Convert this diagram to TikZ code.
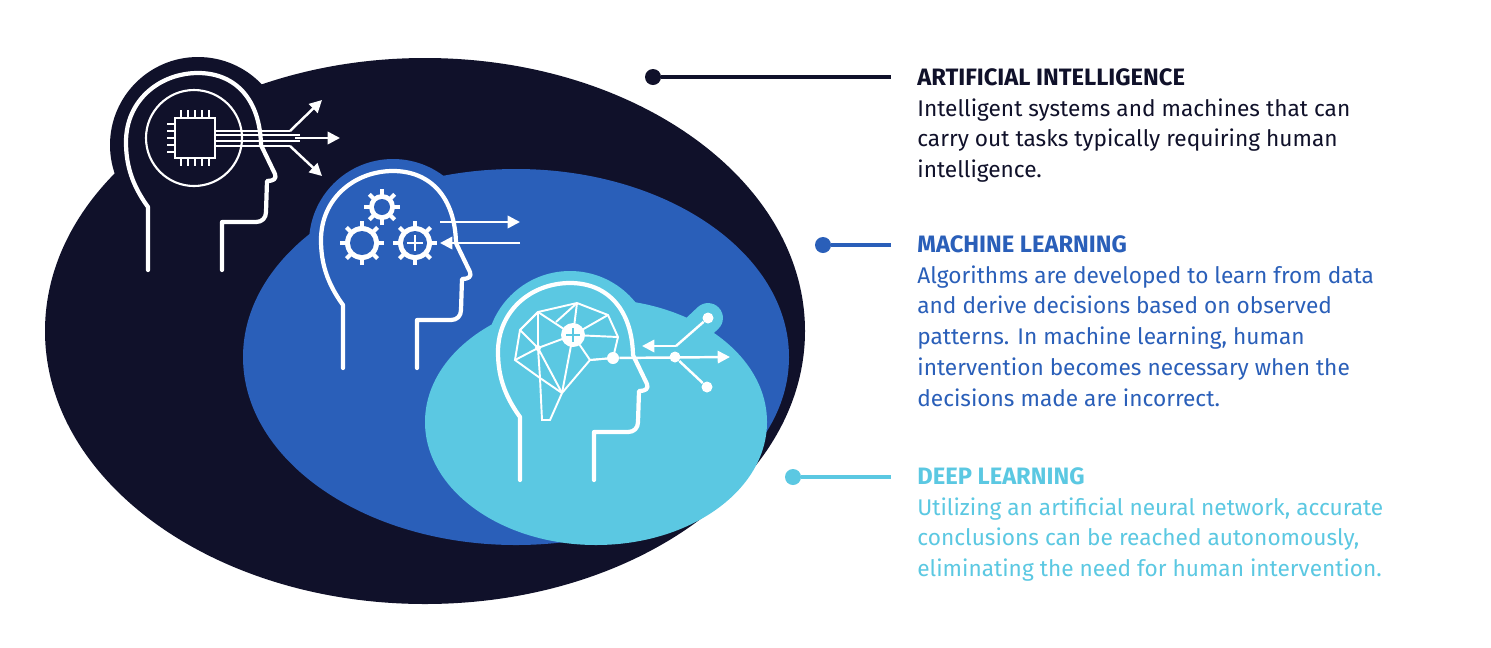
\documentclass[tikz,border=0pt]{standalone}
\usepackage{fontspec}
\setmainfont{Fira Sans}
\usetikzlibrary{arrows.meta}
\definecolor{dk}{HTML}{10112A}
\definecolor{bl}{HTML}{2A5FB9}
\definecolor{lb}{HTML}{5BC8E2}
\tikzset{
 hd/.style={draw=white,line width=2.4pt,line join=round,line cap=round},
 wl/.style={draw=white,line width=1.4pt},
 arr/.style={wl,-{Triangle[length=7pt,width=7pt]}},
 leader/.style={line width=2.2pt},
 ttl/.style={anchor=north west,font=\fontsize{13.5}{17.5}\selectfont\bfseries,inner sep=0pt},
 bod/.style={anchor=north west,align=left,font=\fontsize{12.9}{17.6}\selectfont,inner sep=0pt},
}
\newcommand\myhead{(0,0) -- (0,-63) .. controls (-16,-85) and (-22,-105) .. (-22,-128)
 .. controls (-22,-170) and (12,-197) .. (50,-197) .. controls (88,-197) and (112,-170) .. (113,-125)
 -- (127,-96) .. controls (129,-91) and (125,-89) .. (119,-89) -- (118,-58)
 .. controls (118,-52) and (114,-48) .. (108,-48) -- (74,-48) -- (74,0)}
\begin{document}
\begin{tikzpicture}[x=0.02cm,y=-0.02cm]
\useasboundingbox[fill=white] (0,0) rectangle (1491,647);
% dark region
\fill[dk] (425,331) ellipse [x radius=380,y radius=273];
\fill[dk] (198,145) circle (88);
% blue region
\fill[bl] (516,357) ellipse [x radius=273,y radius=188];
\fill[bl] (393,243) circle (84);
% light region
\fill[lb] (596,422) ellipse [x radius=171,y radius=123];
\fill[lb] (570,355) circle (84);
\draw[lb,line width=17pt,line cap=round] (672,352) -- (708,318);
% head 1
\begin{scope}[shift={(148,270)}]
\draw[hd] \myhead;
\end{scope}
\node[circle,draw=white,line width=1.2pt,minimum size=96*0.02cm,inner sep=0pt] (ring) at (194,138) {};
\node[draw=white,line width=1.4pt,minimum size=40*0.02cm,inner sep=0pt] (chip) at (195,138) {};
\foreach \i in {-14,-7,0,7,14}{
 \draw[wl] (195+\i,118) -- (195+\i,110);
 \draw[wl] (195+\i,158) -- (195+\i,166);
 \draw[wl] (175,138+\i) -- (167,138+\i);}
\draw[wl] (215,131) -- (290,131);
\draw[arr] (290,131) -- (322,100);
\draw[wl] (215,135) -- (300,135);
\draw[wl] (215,141) -- (300,141);
\draw[arr] (295,138) -- (340,138);
\draw[wl] (215,146) -- (290,146);
\draw[arr] (290,146) -- (322,176);
% head 2
\begin{scope}[shift={(343,368)}]
\draw[hd] \myhead;
\end{scope}
\foreach \c/\r in {{(382,207)}/13,{(362,243)}/17,{(415,243)}/17}{
 \fill[white] \c circle (\r);
 \foreach \a in {0,45,...,315} \draw[white,line width=2.4pt] \c -- ++(\a:\r+5);
 \fill[bl] \c circle (\r-5);}
\draw[white,line width=1.6pt] (407,243) -- (423,243) (415,235) -- (415,251);
\draw[arr] (440,222) -- (520,222);
\draw[arr] (520,243) -- (440,243);
% head 3
\begin{scope}[shift={(520,480)}]
\draw[hd] \myhead;
\end{scope}
\begin{scope}[wl,line width=1.1pt]
\draw (515,360) -- (520,330) -- (538,312) -- (577,303) -- (608,315) -- (618,337) -- (613,358)
 -- (590,360) -- (562,393) -- (550,420) -- (542,420) -- (540,378) -- cycle;
\draw (538,348) -- (538,312) (538,348) -- (520,330) (538,348) -- (573,335) (538,348) -- (540,378)
 (538,348) -- (562,393) (538,348) -- (515,360);
\draw (573,335) -- (538,312) (573,335) -- (577,303) (573,335) -- (608,315) (573,335) -- (618,337)
 (573,335) -- (590,360) (573,335) -- (562,393) (590,360) -- (613,358) (540,378) -- (562,393);
\draw (520,330) -- (538,312) (577,303) -- (556,322);
\end{scope}
\fill[white] (573,335) circle (12);
\draw[lb,line width=1.5pt] (566,335) -- (580,335) (573,328) -- (573,342);
\fill[white] (538,348) circle (3);
\node[circle,fill=white,inner sep=0pt,minimum size=12*0.02cm] (d1) at (613,358) {};
\node[circle,fill=white,inner sep=0pt,minimum size=11*0.02cm] (d2) at (675,357) {};
\node[circle,fill=white,inner sep=0pt,minimum size=11*0.02cm] (d3) at (707,387) {};
\node[circle,fill=white,inner sep=0pt,minimum size=11*0.02cm] (d4) at (708,318) {};
\draw[arr] (d1) -- (730,357);
\draw[wl] (d2) -- (d3);
\draw[wl] (d4) -- (676,346);
\draw[arr] (676,346) -- (642,346);
% leaders
\node[circle,fill=dk,inner sep=0pt,minimum size=16*0.02cm] (p1) at (653,77) {};
\coordinate (q1) at (891,77);
\draw[dk,leader] (p1) -- (q1);
\node[circle,fill=bl,inner sep=0pt,minimum size=16*0.02cm] (p2) at (823,245) {};
\coordinate (q2) at (891,245);
\draw[bl,leader] (p2) -- (q2);
\node[circle,fill=lb,inner sep=0pt,minimum size=16*0.02cm] (p3) at (793,477) {};
\coordinate (q3) at (891,477);
\draw[lb,leader] (p3) -- (q3);
% texts
\node[ttl,text=dk] (t1) at (917,68) {ARTIFICIAL INTELLIGENCE};
\node[bod,text=dk] (b1) at (917,98) {Intelligent systems and machines that can\\carry out tasks typically requiring human\\intelligence.};
\node[ttl,text=bl] (t2) at (917,235) {MACHINE LEARNING};
\node[bod,text=bl] (b2) at (917,265) {Algorithms are developed to learn from data\\and derive decisions based on observed\\patterns. In machine learning, human\\intervention becomes necessary when the\\decisions made are incorrect.};
\node[ttl,text=lb] (t3) at (917,467) {DEEP LEARNING};
\node[bod,text=lb] (b3) at (917,497) {Utilizing an artificial neural network, accurate\\conclusions can be reached autonomously,\\eliminating the need for human intervention.};
\end{tikzpicture}
\end{document}
